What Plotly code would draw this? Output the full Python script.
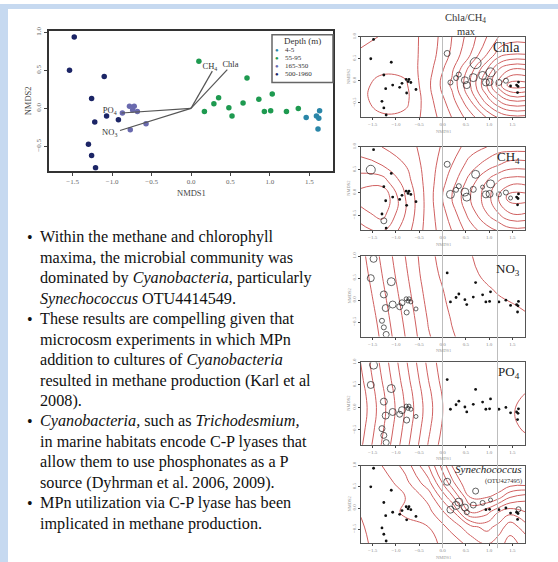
import plotly.graph_objects as go

W, H = 558, 562
def fx(px): return px / W
def fy(py): return 1 - py / H

# ---------------- data ----------------
groups = ["4-5", "55-95", "165-350", "500-1960"]
group_colors = ["#2a86a8", "#1e9a50", "#6a6aae", "#1c2566"]

deep_x = [-1.48, -1.54, -1.10, -1.26, -1.07, -0.92, -1.22, -1.30, -1.26, -1.21]
deep_y = [0.94, 0.50, 0.42, 0.13, -0.10, -0.15, -0.18, -0.47, -0.62, -0.78]
mid_x = [-0.87, -0.78, -0.74, -0.72, -0.68, -0.77, -0.57]
mid_y = [-0.06, 0.03, -0.02, 0.03, -0.04, -0.28, -0.20]
green_x = [0.10, 0.71, 0.17, 0.29, 0.35, 0.48, 0.52, 0.66, 0.86, 0.93, 1.01, 1.03, 1.21, 1.36]
green_y = [0.62, 0.40, -0.04, 0.06, 0.14, 0.01, -0.10, 0.07, 0.12, -0.04, -0.03, 0.19, -0.04, 0.00]
teal_x = [1.46, 1.59, 1.62, 1.63, 1.61]
teal_y = [-0.12, -0.10, -0.13, -0.03, -0.27]

group_x = [teal_x, green_x, mid_x, deep_x]
group_y = [teal_y, green_y, mid_y, deep_y]

all_x = deep_x + mid_x + green_x + teal_x
all_y = deep_y + mid_y + green_y + teal_y

env_names = ["CH<sub>4</sub>", "Chla", "PO<sub>4</sub>", "NO<sub>3</sub>"]
env_x = [0.27, 0.46, -0.88, -0.90]
env_y = [0.49, 0.51, -0.06, -0.29]
env_lab_x = [0.24, 0.50, -1.03, -1.03]
env_lab_y = [0.54, 0.57, -0.03, -0.32]

chla_size = [0]*10 + [0]*7 + [6, 11, 5, 5, 5, 7, 7, 8, 8, 7, 7, 9, 6, 5] + [0]*5
ch4_size = [0, 9, 0, 0, 0, 0, 0, 0, 6, 0] + [0]*7 + [6, 8, 8, 5, 5, 8, 8, 6, 4, 7, 7, 8, 5, 5] + [4, 0, 0, 0, 0]
no3_size = [7, 7, 8, 7, 7, 6, 7, 5, 5, 6] + [6, 4, 4, 4, 4, 5, 4] + [0]*14 + [0]*5
po4_size = [8, 7, 8, 7, 7, 6, 7, 6, 6, 6] + [7, 4, 4, 4, 4, 6, 4] + [0]*14 + [0]*5
syn_size = [0]*10 + [0]*7 + [7, 6, 7, 8, 8, 7, 5, 6, 5, 0, 0, 4, 0, 0] + [0, 0, 0, 5, 0]

grid_x = [-1.8, -1.3, -0.8, -0.3, 0.2, 0.6, 0.95, 1.2, 1.45, 1.8]
grid_y = [-0.85, -0.45, -0.1, 0.25, 0.6, 1.0]
chla_z = [
    [1.6, 1.2, 1.3, 2.4, 4.0, 5.5, 7.0, 8.0, 8.5, 8.5],
    [1.4, 0.5, 0.7, 2.6, 4.6, 7.0, 9.5, 11.0, 12.0, 12.0],
    [1.4, 0.6, 0.8, 2.8, 5.2, 8.0, 11.0, 13.5, 15.5, 15.5],
    [1.5, 1.2, 1.3, 2.6, 4.8, 7.5, 10.0, 12.0, 13.0, 13.0],
    [1.8, 1.5, 1.5, 2.4, 4.2, 6.0, 8.0, 9.5, 10.0, 10.0],
    [2.5, 1.9, 1.6, 2.3, 4.0, 5.5, 7.0, 8.0, 8.5, 8.5],
]
ch4_z = [
    [1, 0.5, 2, 4, 5.5, 7, 8, 8.5, 9, 9],
    [0, -1, 1.5, 4, 6, 8, 9.5, 10.5, 11.5, 11.5],
    [-1, -1.5, 1.5, 4, 6.5, 8.5, 10, 11.5, 13, 13],
    [0, 0, 2, 4, 6, 8, 9.5, 10.5, 11, 11],
    [1, 1.5, 2.5, 4, 5.5, 7, 8, 8.5, 9, 9],
    [2, 2.5, 3, 4, 5, 6, 6.5, 7, 7, 7],
]
no3_z = [
    [8.0, 6.3, 4.5, 2.6, 1.6, 1.1, 0.9, 0.8, 0.7, 0.65],
    [7.8, 6.1, 4.3, 2.4, 1.45, 1.0, 0.75, 0.7, 0.6, 0.55],
    [7.6, 5.9, 4.1, 2.2, 1.3, 0.9, 0.65, 0.58, 0.52, 0.45],
    [7.4, 5.7, 3.9, 2.0, 1.2, 0.8, 0.55, 0.45, 0.4, 0.38],
    [7.2, 5.5, 3.7, 1.8, 1.1, 0.6, 0.4, 0.35, 0.33, 0.3],
    [7.0, 5.3, 3.5, 1.7, 1.0, 0.52, 0.35, 0.3, 0.3, 0.3],
]
po4_z = [
    [9.4, 6.9, 4.4, 1.9, -0.3, -0.3, 0, 0.2, 0.4, 0.6],
    [9.7, 7.2, 4.7, 2.2, 0, -0.2, 0.1, 0.3, 0.7, 1.2],
    [9.9, 7.4, 4.9, 2.4, 0.1, -0.1, 0.2, 0.4, 0.8, 1.5],
    [9.8, 7.3, 4.8, 2.3, 0.05, -0.1, 0.15, 0.35, 0.7, 1.1],
    [9.5, 7.0, 4.5, 2.0, -0.2, -0.3, 0, 0.2, 0.4, 0.6],
    [9.2, 6.7, 4.2, 1.7, -0.4, -0.4, -0.2, 0, 0.2, 0.4],
]
syn_z = [
    [1.3, 0.6, 0.5, 0.8, 1.3, 2.0, 2.5, 2.0, 1.5, 2.0],
    [1.2, 0.4, 0.6, 1.0, 2.0, 3.0, 3.5, 3.0, 2.0, 3.0],
    [1.0, 0.3, 1.2, 1.5, 3.0, 5.5, 5.0, 4.0, 3.5, 4.0],
    [0.8, 0.5, 1.0, 2.0, 4.5, 7.0, 7.0, 6.5, 5.5, 5.0],
    [0.5, 0.5, 1.5, 3.0, 6.0, 8.0, 8.0, 8.0, 7.5, 7.5],
    [0.5, 1.0, 2.0, 4.0, 7.0, 8.0, 8.0, 8.0, 8.0, 8.0],
]

panel_labels = ["Chla", "CH<sub>4</sub>", "NO<sub>3</sub>", "PO<sub>4</sub>", "<i>Synechococcus</i>"]
panel_z = [chla_z, ch4_z, no3_z, po4_z, syn_z]
panel_sizes = [chla_size, ch4_size, no3_size, po4_size, syn_size]
panel_levels = [(1, 15, 1), (-0.5, 12.5, 1), (0.5, 6.5, 1), (1, 9, 1), (1, 7.5, 0.75)]

tick_x = [-1.5, -1.0, -0.5, 0.0, 0.5, 1.0, 1.5]
tick_y = [-0.5, 0.0, 0.5, 1.0]

bullet_lines = [
    (True, "Within the methane and chlorophyll"),
    (False, "maxima, the microbial community was"),
    (False, "dominated by <i>Cyanobacteria</i>, particularly"),
    (False, "<i>Synechococcus</i> OTU4414549."),
    (True, "These results are compelling given that"),
    (False, "microcosm experiments in which MPn"),
    (False, "addition to cultures of <i>Cyanobacteria</i>"),
    (False, "resulted in methane production (Karl et al"),
    (False, "2008)."),
    (True, "<i>Cyanobacteria,</i> such as <i>Trichodesmium,</i>"),
    (False, "in marine habitats encode C-P lyases that"),
    (False, "allow them to use phosphonates as a P"),
    (False, "source (Dyhrman et al. 2006, 2009)."),
    (True, "MPn utilization via C-P lyase has been"),
    (False, "implicated in methane production."),
]

SERIF = "Liberation Serif"

# ---------------- figure ----------------
fig = go.Figure()
layout = dict(
    width=W, height=H, margin=dict(l=0, r=0, t=0, b=0),
    paper_bgcolor="white", plot_bgcolor="white", showlegend=False,
    font=dict(family=SERIF, color="#222"),
)

for g, col, xs, ys in zip(groups, group_colors, group_x, group_y):
    fig.add_trace(go.Scatter(x=xs, y=ys, mode="markers", xaxis="x", yaxis="y",
                             marker=dict(color=col, size=5.5), hoverinfo="skip"))
for name, ex, ey, lx, ly in zip(env_names, env_x, env_y, env_lab_x, env_lab_y):
    fig.add_trace(go.Scatter(x=[0, ex], y=[0, ey], mode="lines", xaxis="x", yaxis="y",
                             line=dict(color="#555", width=1.2), hoverinfo="skip"))
    fig.add_trace(go.Scatter(x=[lx], y=[ly], mode="text", text=[name], xaxis="x", yaxis="y",
                             textfont=dict(family=SERIF, size=8.5, color="#333"), hoverinfo="skip"))

layout["xaxis"] = dict(domain=[fx(49), fx(333)], range=[-1.8, 1.8], anchor="y",
                       tickvals=tick_x, tickformat=".1f", ticks="outside", ticklen=3,
                       tickfont=dict(size=7, color="#666"), showgrid=False, zeroline=False,
                       showline=True, mirror=True, linecolor="#333", linewidth=2)
layout["yaxis"] = dict(domain=[fy(168), fy(27)], range=[-0.82, 1.02], anchor="x",
                       tickvals=tick_y, tickformat=".1f", ticks="outside", ticklen=3, tickangle=-90,
                       tickfont=dict(size=7, color="#666"), showgrid=False, zeroline=False,
                       showline=True, mirror=True, linecolor="#333", linewidth=2)

annotations = []
shapes = []

def ann(px, py, text, size, color="#222", xanchor="center", yanchor="middle", **kw):
    d = dict(x=fx(px), y=fy(py), xref="paper", yref="paper", text=text, showarrow=False,
             xanchor=xanchor, yanchor=yanchor,
             font=dict(family=SERIF, size=size, color=color))
    d.update(kw)
    annotations.append(d)

ann(191, 190, "NMDS1", 8.5, color="#444")
ann(28, 98, "NMDS2", 8.5, color="#444", textangle=-90)

shapes.append(dict(type="rect", xref="paper", yref="paper", x0=fx(272), x1=fx(333), y0=fy(79), y1=fy(31),
                   line=dict(color="#666", width=1.5), fillcolor="white"))
ann(302, 37, "Depth (m)", 9, color="#333")
for i, (g, col) in enumerate(zip(groups, group_colors)):
    py = 46 + i * 8.3
    ann(277, py, "●", 6, color=col)
    ann(283, py, g, 7, color="#333", xanchor="left")

shapes.append(dict(type="rect", xref="paper", yref="paper", x0=0, x1=fx(8), y0=0, y1=1,
                   line=dict(width=0), fillcolor="#c6d9f0", layer="below"))
shapes.append(dict(type="rect", xref="paper", yref="paper", x0=0, x1=1, y0=fy(5), y1=1,
                   line=dict(width=0), fillcolor="#c6d9f0", layer="below"))

for gx in [442.5, 497.5]:
    shapes.append(dict(type="line", xref="paper", yref="paper", x0=fx(gx), x1=fx(gx),
                       y0=fy(548), y1=fy(33), line=dict(color="#bdbdbd", width=1)))

panel_boxes = [(33, 114), (144, 228), (254, 335), (361, 444), (465, 543)]
label_pos = [(522, 44, 14), (522, 155, 13), (522, 267, 13), (522, 371, 13), (524, 468, 11)]
red = "#d06060"
for i, ((top, bot), z, sizes, (s0, s1, ss), lab, lp) in enumerate(
        zip(panel_boxes, panel_z, panel_sizes, panel_levels, panel_labels, label_pos)):
    n = i + 2
    xa, ya = f"x{n}", f"y{n}"
    fig.add_trace(go.Contour(x=grid_x, y=grid_y, z=z, xaxis=xa, yaxis=ya,
                             contours=dict(coloring="lines", start=s0, end=s1, size=ss),
                             line=dict(width=1, smoothing=1.3),
                             colorscale=[[0, red], [1, red]], showscale=False, hoverinfo="skip"))
    dx = [x for x, s in zip(all_x, sizes) if s == 0]
    dy = [y for y, s in zip(all_y, sizes) if s == 0]
    cx = [x for x, s in zip(all_x, sizes) if s > 0]
    cy = [y for y, s in zip(all_y, sizes) if s > 0]
    cs = [s for s in sizes if s > 0]
    fig.add_trace(go.Scatter(x=dx, y=dy, mode="markers", xaxis=xa, yaxis=ya,
                             marker=dict(color="#111", size=2.8), hoverinfo="skip"))
    fig.add_trace(go.Scatter(x=cx, y=cy, mode="markers", xaxis=xa, yaxis=ya,
                             marker=dict(symbol="circle-open", color="#222", size=cs,
                                         line=dict(width=1)), hoverinfo="skip"))
    layout[f"xaxis{n}"] = dict(domain=[fx(361), fx(525)], range=[-1.75, 1.77], anchor=ya,
                               tickvals=tick_x, tickformat=".1f", ticks="outside", ticklen=2,
                               tickfont=dict(size=5, color="#888"), showgrid=False, zeroline=False,
                               showline=True, mirror=True, linecolor="#555", linewidth=1)
    layout[f"yaxis{n}"] = dict(domain=[fy(bot), fy(top)], range=[-0.83, 1.0], anchor=xa,
                               tickvals=tick_y, tickformat=".1f", ticks="outside", ticklen=2, tickangle=-90,
                               tickfont=dict(size=5, color="#888"), showgrid=False, zeroline=False,
                               showline=True, mirror=True, linecolor="#555", linewidth=1)
    ann(lp[0], lp[1], lab, lp[2], color="#222", xanchor="right")
    ann(443, bot + 14, "NMDS1", 4.5, color="#999")
    ann(349, (top + bot) / 2, "NMDS2", 4.5, color="#999", textangle=-90)

ann(524, 480, "(OTU427495)", 6.5, color="#333", xanchor="right")
ann(465, 15, "Chla/CH<sub>4</sub>", 10.5, color="#333")
ann(466, 28, "max", 10.5, color="#333")

for i, (has_bullet, line) in enumerate(bullet_lines):
    py = 235 + i * 20.6
    if has_bullet:
        ann(30, py, "•", 16, color="#111")
    ann(38, py, line, 16.2, color="#111", xanchor="left")

layout["annotations"] = annotations
layout["shapes"] = shapes
fig.update_layout(**layout)
fig.write_html("out.html", config={"displayModeBar": False},
               post_script="document.body.style.margin='0';document.body.style.overflow='hidden';")
